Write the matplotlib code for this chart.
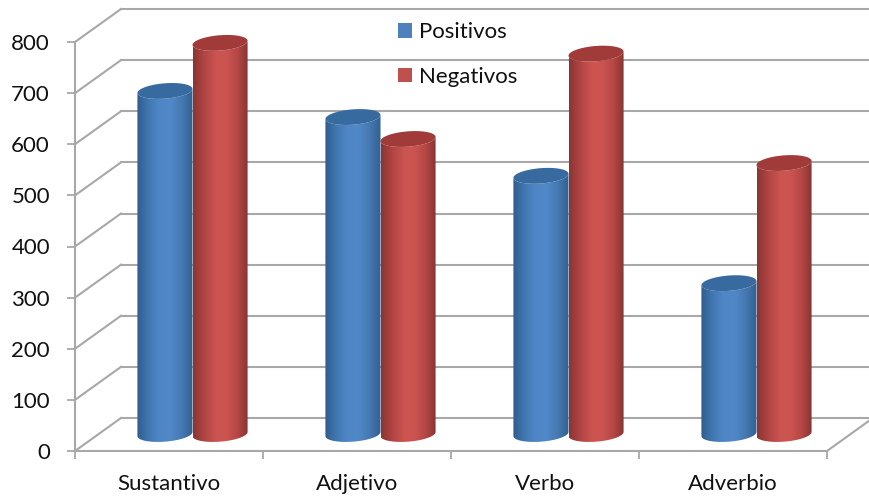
import numpy as np
import matplotlib
matplotlib.use("Agg")
import matplotlib.pyplot as plt
from matplotlib.colors import LinearSegmentedColormap
from matplotlib.patches import Patch, PathPatch
from matplotlib.path import Path
from matplotlib.transforms import Affine2D

categories = ["Sustantivo", "Adjetivo", "Verbo", "Adverbio"]
positivos = [671, 620, 505, 295]
negativos = [765, 577, 744, 530]
y_ticks = [0, 100, 200, 300, 400, 500, 600, 700, 800]

plt.rcParams["font.family"] = ["Lato", "DejaVu Sans"]
GREY = "#a8a8a8"
W, H = 869, 499
DEPTH_X, DEPTH_Y = 46, 33
BAR_W = 0.293
CAP_H = 15.0   # half height of the cylinder caps, in value units
TILT = 4.0     # rise of the caps towards the right, in value units
FONT = 16

fig = plt.figure(figsize=(W / 100, H / 100), dpi=100, facecolor="white")
ax = fig.add_axes([75 / W, 1 - 451 / H, 752 / W, 409 / H])
ax.set_xlim(0, 4)
ax.set_ylim(0, 800)
ax.patch.set_alpha(0)
for side in ("top", "right"):
    ax.spines[side].set_visible(False)
for side in ("left", "bottom"):
    ax.spines[side].set_color(GREY)
    ax.spines[side].set_linewidth(1.5)

ax.set_yticks(y_ticks)
ax.set_xticks(range(5))
ax.set_xticklabels([])
ax.set_xticks([i + 0.5 for i in range(4)], categories, minor=True)
ax.tick_params(axis="y", length=5.5, width=1.3, color=GREY, labelsize=FONT, pad=12.5, labelcolor="#111111")
ax.tick_params(axis="x", which="major", length=5.5, width=1.3, color=GREY)
ax.tick_params(axis="x", which="minor", length=0, labelsize=FONT, pad=16.5, labelcolor="#111111")

# Back wall and the diagonals joining it to the front axes
back = ax.transData + Affine2D().translate(DEPTH_X, DEPTH_Y)
for v in y_ticks:
    ax.plot([0, 4.05], [v, v], transform=back, color=GREY, lw=1.5, clip_on=False, zorder=1)
    x0, y0 = ax.transData.transform((0, v))
    ax.plot([x0, x0 + DEPTH_X], [y0, y0 + DEPTH_Y], transform=None, color=GREY, lw=1.5,
            clip_on=False, zorder=1)
xr, yr = ax.transData.transform((4, 0))
ax.plot([xr, xr + DEPTH_X], [yr, yr + DEPTH_Y], transform=None, color=GREY, lw=1.5,
        clip_on=False, zorder=1)

# Cylinders stand at mid depth
mid = ax.transData + Affine2D().translate(23.5, 17)
blue_map = LinearSegmentedColormap.from_list(
    "b", ["#2f5d8f", "#4177b0", "#4f86c6", "#5088c8", "#4679b3", "#32608f"])
red_map = LinearSegmentedColormap.from_list(
    "r", ["#8a3533", "#b04543", "#cb5350", "#cc5451", "#b44745", "#843331"])
gradient = np.linspace(0, 1, 128).reshape(1, -1)


def cylinder(center, value, cmap, cap_color, z):
    left, right = center - BAR_W / 2, center + BAR_W / 2
    t = np.linspace(np.pi, 2 * np.pi, 40)
    xs = center + BAR_W / 2 * np.cos(t)
    bottom = CAP_H * np.sin(t) + TILT * np.cos(t)
    top = value + TILT * np.cos(t[::-1]) + CAP_H * np.sin(t[::-1])
    xt = center + BAR_W / 2 * np.cos(t[::-1])
    outline = np.column_stack([np.r_[xs, xt], np.r_[bottom, top]])
    body = PathPatch(Path(np.vstack([outline, outline[0]]), closed=True),
                     transform=mid, fc="none", ec="none")
    ax.add_patch(body)
    img = ax.imshow(gradient, extent=[left, right, -40, value + 40], aspect="auto", cmap=cmap,
                    transform=mid, zorder=z, clip_on=True, interpolation="bilinear")
    img.set_clip_path(body)
    th = np.linspace(0, 2 * np.pi, 80)
    cap = np.column_stack([center + BAR_W / 2 * np.cos(th),
                           value + CAP_H * np.sin(th) + TILT * np.cos(th)])
    ax.add_patch(PathPatch(Path(cap, closed=False), transform=mid, fc=cap_color, ec="none",
                           zorder=z + 0.1, clip_on=False))


for i, (pos, neg) in enumerate(zip(positivos, negativos)):
    cylinder(i + 0.5 - BAR_W / 2, pos, blue_map, "#376a9f", 3 + i)
    cylinder(i + 0.5 + BAR_W / 2, neg, red_map, "#a13b39", 3.3 + i)

ax.set_xlim(0, 4)
ax.set_ylim(0, 800)

handles = [Patch(fc="#4f81bd", ec="none"), Patch(fc="#c0504d", ec="none")]
fig.legend(handles, ["Positivos", "Negativos"], frameon=False, loc="upper left",
           bbox_to_anchor=(398 / W, 1 - 22.5 / H), fontsize=FONT, handlelength=0.63, handleheight=0.63,
           handletextpad=0.32, labelspacing=1.1, borderpad=0, borderaxespad=0, labelcolor="#111111")

fig.savefig("out.png", dpi=100, facecolor="white")
